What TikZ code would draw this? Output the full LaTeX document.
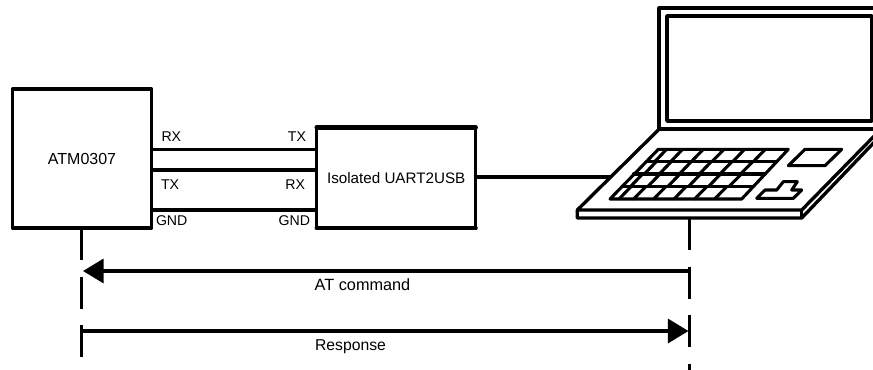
\documentclass[tikz,border=0pt]{standalone}
\usepackage{fontspec}
\setmainfont{Liberation Sans}
\usetikzlibrary{arrows.meta}
\tikzset{
  box/.style={draw=black,line width=2.7pt,fill=white,rectangle,inner sep=0pt,outer sep=0pt,line join=round},
  wire/.style={draw=black,line width=2.6pt},
  thick wire/.style={draw=black,line width=3pt},
  lbl/.style={inner sep=0pt,outer sep=0pt,font=\fontsize{10.6pt}{12pt}\selectfont},
  lifeline/.style={draw=black,line width=2.6pt,dash pattern=on 24pt off 12.4pt},
  msg/.style={draw=black,line width=2.7pt,-{Triangle[length=15.5pt,width=18pt]}},
  laptop/.style={draw=black,line width=2.5pt,line join=round},
  keys/.style={draw=black,line width=2.3pt,line cap=round,line join=round},
}
\begin{document}
\begin{tikzpicture}[x=0.75pt,y=-0.75pt]
\clip (0,0) rectangle (873,369);
\fill[white] (0,0) rectangle (873,369);
% blocks
\node[box,font=\fontsize{12pt}{14pt}\selectfont,minimum width=104.2pt,minimum height=104.2pt] (atm) at (82,158.5) {ATM0307};
\node[box,line width=2.4pt,font=\fontsize{11.4pt}{14pt}\selectfont,minimum width=119.2pt,minimum height=75.5pt] (uart) at (396.2,177.7) {Isolated UART2USB};
\draw[line width=3.4pt,line cap=round] (uart.north west) -- (uart.north east);
\draw[line width=3.2pt,line cap=round] (uart.south west) -- (uart.south east);
% helper levels
\coordinate (y1) at (0,149.3);
\coordinate (y2) at (0,170);
\coordinate (y3) at (0,210);
\coordinate (y4) at (0,177);
\draw[wire] (atm.east |- y1) -- (uart.west |- y1);
\draw[thick wire] (atm.east |- y2) -- (uart.west |- y2);
\draw[wire] (atm.east |- y3) -- (uart.west |- y3);
% pin labels
\node[lbl,anchor=west] (rxl) at (161.5,136.7) {RX};
\node[lbl,anchor=east] (txr) at (306,136.7) {TX};
\node[lbl,anchor=west] (txl) at (161,185) {TX};
\node[lbl,anchor=east] (rxr) at (305,185) {RX};
\node[lbl,anchor=west] (gndl) at (156,220.7) {GND};
\node[lbl,anchor=east] (gndr) at (310,220.7) {GND};
% laptop lid
\draw[laptop,line width=2.8pt] (885,8) -- (659.3,8) -- (659.3,129) -- (885,129);
\draw[laptop,line width=2.8pt] (872,16) -- (667,16) -- (667,121) -- (872,121) -- cycle;
% laptop base
\coordinate (edge) at (610.7,177);
\draw[laptop] (659.3,129) -- (577.3,210) -- (801.7,210) -- (885,125);
\draw[laptop] (577.3,210) -- (577.3,218) -- (801.7,218) -- (885,131) ;
\draw[laptop] (801.7,210) -- (801.7,218);
\draw[wire] (uart.east |- y4) -- (edge);
% keyboard
\draw[keys] (658.3,149.3) -- (788.3,149.3) -- (741.7,199) -- (610,199) -- cycle;
\draw[keys] (646,161.3) -- (776.5,161.3);
\draw[keys] (633.5,174) -- (764.5,174);
\draw[keys] (621.5,186.7) -- (752.5,186.7);
\foreach \a in {290,338,400,462,524,586}
  \draw[keys] ({\a/3+570},149.3) -- ({\a/3+570-11.7},161.3);
\foreach \a in {260,305,365,425,487,549}
  \draw[keys] ({\a/3+570},161.3) -- ({\a/3+570-12.4},174);
\foreach \a in {218,270,330,392,452,514}
  \draw[keys] ({\a/3+570},174) -- ({\a/3+570-12.4},186.7);
\foreach \a in {183,227,287,348,410,470}
  \draw[keys] ({\a/3+570},186.7) -- ({\a/3+570-12},199);
% trackpad and buttons
\draw[keys] (805,149.3) -- (841.7,149.3) -- (825,165.7) -- (788.3,165.7) -- cycle;
\draw[keys] (756.7,198.3) -- (765,190) -- (776.7,190) -- (783.3,181.7) -- (797.3,181.7) -- (791.7,190) -- (801.7,190) -- (793.3,198.3) -- cycle;
% lifelines
\coordinate (lltop) at (81.5,228);
\coordinate (llbot) at (81.5,357);
\coordinate (lrtop) at (689.3,218);
\coordinate (lrbot) at (689.3,380);
\draw[lifeline] (lltop) -- (llbot);
\draw[lifeline] (lrtop) -- (lrbot);
% messages
\coordinate (m1r) at (689.3,271);
\coordinate (m1l) at (83,271);
\coordinate (m2l) at (81.5,331);
\coordinate (m2r) at (688.5,331);
\draw[msg] (m1r) -- (m1l);
\draw[msg] (m2l) -- (m2r);
\node[lbl,font=\fontsize{12.2pt}{14pt}\selectfont] (atc) at (362.5,285) {AT command};
\node[lbl,font=\fontsize{11.8pt}{14pt}\selectfont] (resp) at (350.5,347) {Response};
\end{tikzpicture}
\end{document}
